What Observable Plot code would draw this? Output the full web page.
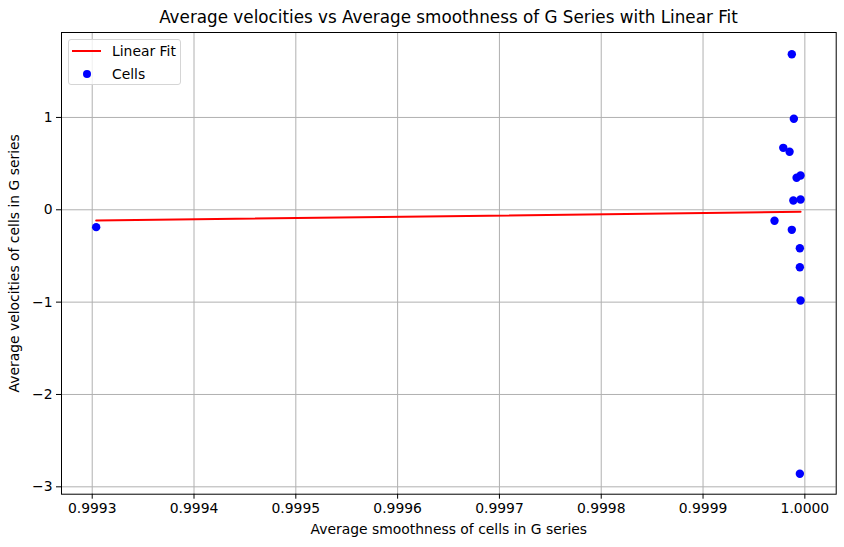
<!DOCTYPE html>
<html><head><meta charset="utf-8">
<script src="https://cdn.jsdelivr.net/npm/d3@7"></script>
<script src="https://cdn.jsdelivr.net/npm/@observablehq/plot@0.6"></script>
<style>
body{margin:0;background:#fff;font-family:"DejaVu Sans",sans-serif;}
#wrap{position:relative;width:844px;height:547px;overflow:hidden;}
#title{box-sizing:border-box;height:30px;padding:4px 8px 0 61px;line-height:26px;text-align:center;font-size:16.8px;color:#000;white-space:nowrap;}
#legend{position:absolute;left:68px;top:39px;width:113px;height:46px;box-sizing:border-box;border:1px solid #d5d5d5;border-radius:3px;background:rgba(255,255,255,0.8);font-size:13.9px;color:#000;}
.row{position:absolute;left:0;height:16px;line-height:16px;}
.sw{position:absolute;}
.lab{position:absolute;left:43px;white-space:nowrap;}
</style></head><body>
<div id="wrap">
<div id="title">Average velocities vs Average smoothness of G Series with Linear Fit</div>
<div id="chart"></div>
<div id="legend">
  <div class="row" style="top:3px;width:111px"><div class="sw" style="left:3px;top:7px;width:29px;height:2px;background:#ff0000"></div><div class="lab">Linear Fit</div></div>
  <div class="row" style="top:26px;width:111px"><div class="sw" style="left:13.5px;top:3.5px;width:8.5px;height:8.5px;border-radius:50%;background:#0000ff"></div><div class="lab">Cells</div></div>
</div>
</div>
<script>
const smoothness = [0.9993039, 0.9999872, 0.9999892, 0.9999788, 0.9999850, 0.9999958, 0.9999919, 0.9999958, 0.9999887, 0.9999702, 0.9999872, 0.9999951, 0.9999951, 0.9999958, 0.9999951];
const velocities = [-0.188, 1.685, 0.986, 0.671, 0.628, 0.371, 0.347, 0.112, 0.101, -0.119, -0.217, -0.416, -0.622, -0.982, -2.859];
const fitX = [0.9993039, 0.9999958];
const fitY = [-0.116, -0.022];
const xTicks = [0.9993, 0.9994, 0.9995, 0.9996, 0.9997, 0.9998, 0.9999, 1.0000];
const yTicks = [-3, -2, -1, 0, 1];
const xLabel = "Average smoothness of cells in G series";
const yLabel = "Average velocities of cells in G series";

const cells = smoothness.map((s, i) => ({s, v: velocities[i]}));
const fit = fitX.map((x, i) => ({x, y: fitY[i]}));

const chart = Plot.plot({
  width: 844,
  height: 517,
  marginLeft: 61,
  marginRight: 8.3,
  marginTop: 2,
  marginBottom: 53.3,
  style: {fontFamily: "DejaVu Sans, sans-serif", fontSize: "13.9px", color: "#000", background: "#fff"},
  x: {domain: [0.99926984, 1.0000308]},
  y: {domain: [-3.08, 1.92]},
  marks: [
    Plot.gridX(xTicks, {stroke: "#b0b0b0", strokeOpacity: 1, strokeWidth: 1}),
    Plot.gridY(yTicks, {stroke: "#b0b0b0", strokeOpacity: 1, strokeWidth: 1}),
    Plot.axisX(xTicks, {tickFormat: d3.format(".4f"), tickSize: 5, tickPadding: 4, fontSize: 13.9, label: xLabel, labelAnchor: "center", labelArrow: "none", labelOffset: 40}),
    Plot.axisY(yTicks, {tickFormat: d3.format("d"), tickSize: 5, tickPadding: 4, fontSize: 13.9, label: yLabel, labelAnchor: "center", labelArrow: "none", labelOffset: 52}),
    Plot.line(fit, {x: "x", y: "y", stroke: "#ff0000", strokeWidth: 2}),
    Plot.dot(cells, {x: "s", y: "v", r: 4.2, fill: "#0000ff", stroke: "none"}),
    Plot.frame({stroke: "#000", strokeWidth: 1})
  ]
});
document.getElementById("chart").appendChild(chart);
</script>
</body></html>
